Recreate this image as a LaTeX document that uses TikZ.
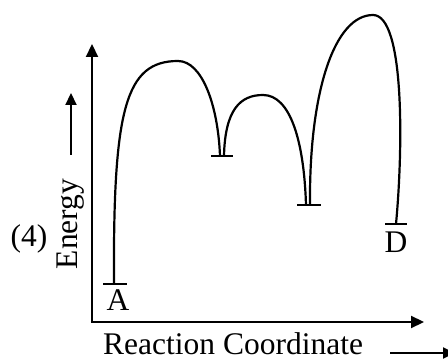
\documentclass[tikz,border=0pt]{standalone}
\usepackage{fontspec}
\setmainfont{Liberation Serif}
\usetikzlibrary{arrows.meta}
\begin{document}
\begin{tikzpicture}[x=1pt,y=-1pt,
  axis/.style={line width=2.2pt,-{Triangle[length=13pt,width=12pt]}},
  smallarrow/.style={line width=2.2pt,-{Triangle[length=12pt,width=11pt]}},
  curve/.style={line width=2.2pt},
  level/.style={line width=2.4pt},
  lbl/.style={font=\fontsize{31.5}{36}\selectfont,inner sep=0pt}]
\useasboundingbox (0,0) rectangle (448,361);
% axes
\coordinate (O) at (92,322);
\coordinate (Ytop) at (92,44);
\coordinate (Xend) at (424,322);
\draw[axis] (O) -- (Ytop);
\draw[axis] ([xshift=-1.1pt]O) -- (Xend);
% energy levels
\coordinate (A1) at (103,284); \coordinate (A2) at (127,284);
\coordinate (B1) at (211,156); \coordinate (B2) at (233,156);
\coordinate (C1) at (297,205); \coordinate (C2) at (321,205);
\coordinate (D1) at (385,224); \coordinate (D2) at (407,224);
\draw[level] (A1) -- (A2);
\draw[level] (B1) -- (B2);
\draw[level] (C1) -- (C2);
\draw[level] (D1) -- (D2);
% curve end points
\coordinate (a) at (114,284);
\coordinate (p1) at (178,61);
\coordinate (b1) at (220,156);
\coordinate (b2) at (224,156);
\coordinate (p2) at (263,95);
\coordinate (c1) at (306,205);
\coordinate (c2) at (310,205);
\coordinate (p3) at (373,15);
\coordinate (d) at (396,224);
\draw[curve] (a) .. controls (113,110) and (125,61) .. (p1)
  .. controls (202,61) and (218,105) .. (b1);
\draw[curve] (b2) .. controls (225,110) and (240,95) .. (p2)
  .. controls (290,95) and (304,140) .. (c1);
\draw[curve] (c2) .. controls (309,90) and (335,15) .. (p3)
  .. controls (405,15) and (403,150) .. (d);
% labels
\node[lbl,anchor=base] (lA) at (118,310) {A};
\node[lbl,anchor=base] (lD) at (396,252) {D};
\node[lbl,anchor=base] (l4) at (29,247) {(4)};
\node[lbl,anchor=base,rotate=90] (lE) at (77,224) {Energy};
\node[lbl,anchor=base west] (lRC) at (103,354) {Reaction Coordinate};
% direction arrows
\coordinate (e1) at (71,155); \coordinate (e2) at (71,93);
\draw[smallarrow] (e1) -- (e2);
\coordinate (r1) at (390,353); \coordinate (r2) at (455,353);
\draw[smallarrow] (r1) -- (r2);
\end{tikzpicture}
\end{document}
